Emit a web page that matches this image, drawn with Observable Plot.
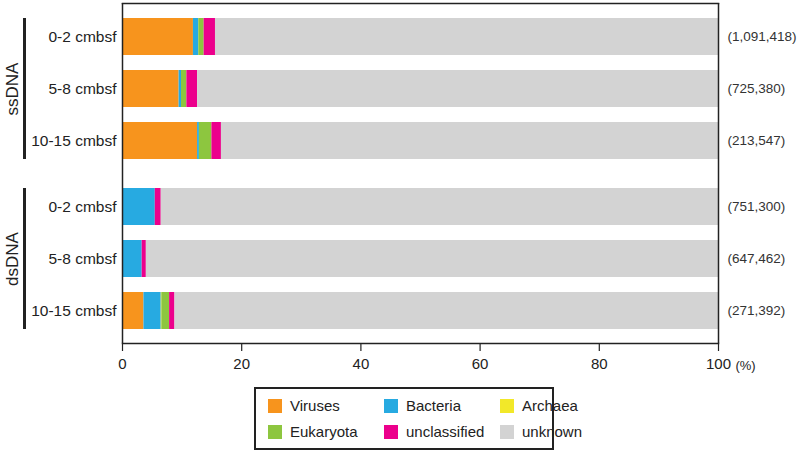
<!DOCTYPE html>
<html>
<head>
<meta charset="utf-8">
<script src="https://cdn.jsdelivr.net/npm/d3@7"></script>
<script src="https://cdn.jsdelivr.net/npm/@observablehq/plot@0.6"></script>
<style>
  html, body { margin: 0; padding: 0; background: #fff; }
  body { width: 800px; height: 453px; overflow: hidden; font-family: "Liberation Sans", Arial, Helvetica, sans-serif; }
  #legend {
    position: absolute; left: 254px; top: 387px; width: 284px; height: 59px;
    border: 2px solid #222; box-sizing: content-box;
    display: grid; grid-template-columns: 116px 116px 64px; grid-template-rows: 26px 26px;
    padding-left: 12px; align-content: center; font-size: 15px; color: #222;
  }
  #legend .item { display: flex; align-items: center; white-space: nowrap; }
  #legend .sw { width: 14px; height: 14px; margin-right: 8px; flex: none; }
</style>
</head>
<body>
<div id="chart"></div>
<div id="legend"></div>
<script>
// ---- data ----
const groups = ["ssDNA", "dsDNA"];
const depths = ["0-2 cmbsf", "5-8 cmbsf", "10-15 cmbsf"];
const categories = ["Viruses", "Bacteria", "Archaea", "Eukaryota", "unclassified", "unknown"];
const colors = ["#F7941D", "#27AAE1", "#F2E829", "#8DC63F", "#EC008C", "#D3D3D3"];

const rowGroup = ["ssDNA", "ssDNA", "ssDNA", "dsDNA", "dsDNA", "dsDNA"];
const rowDepth = ["0-2 cmbsf", "5-8 cmbsf", "10-15 cmbsf", "0-2 cmbsf", "5-8 cmbsf", "10-15 cmbsf"];
const readCounts = ["(1,091,418)", "(725,380)", "(213,547)", "(751,300)", "(647,462)", "(271,392)"];

const viruses      = [11.9, 9.5, 12.6, 0.0, 0.0, 3.6];
const bacteria     = [0.9, 0.4, 0.3, 5.5, 3.3, 2.9];
const archaea      = [0.0, 0.0, 0.0, 0.0, 0.0, 0.1];
const eukaryota    = [0.9, 0.9, 2.1, 0.0, 0.0, 1.3];
const unclassified = [1.9, 1.8, 1.6, 1.0, 0.7, 0.9];
const unknown      = [84.4, 87.4, 83.4, 93.5, 96.0, 91.2];

const xTicks = [0, 20, 40, 60, 80, 100];
const unitLabel = "(%)";

// ---- build tables ----
const series = [viruses, bacteria, archaea, eukaryota, unclassified, unknown];
const segments = [];
rowGroup.forEach((g, i) => {
  categories.forEach((c, k) => {
    segments.push({group: g, depth: rowDepth[i], category: c, value: series[k][i]});
  });
});
const rows = rowGroup.map((g, i) => ({group: g, depth: rowDepth[i], count: readCounts[i]}));

const font = "'Liberation Sans', Arial, Helvetica, sans-serif";
const ink = "#222";

const chart = Plot.plot({
  width: 800,
  height: 382,
  marginLeft: 122,
  marginRight: 82,
  marginTop: 2,
  marginBottom: 39,
  style: {fontFamily: font, fontSize: "14px", color: ink, background: "#fff"},
  x: {domain: [0, 100], axis: null, label: null},
  y: {domain: depths, paddingInner: 0.29, paddingOuter: 0.26, axis: null},
  fy: {domain: groups, padding: 0, axis: null},
  color: {domain: categories, range: colors},
  marks: [
    Plot.barX(segments, Plot.stackX({
      x: "value", y: "depth", fy: "group", fill: "category", order: categories
    })),
    // plot frame
    Plot.ruleX([xTicks[0], xTicks[xTicks.length - 1]], {stroke: ink, strokeWidth: 1.5}),
    Plot.frame({anchor: "top", facetAnchor: "top", stroke: ink, strokeWidth: 1.5}),
    Plot.frame({anchor: "bottom", facetAnchor: "bottom", stroke: ink, strokeWidth: 1.5}),
    // x axis
    Plot.axisX({anchor: "bottom", label: null, ticks: xTicks, tickSize: 8, tickPadding: 7, fontSize: 15, stroke: ink, strokeWidth: 1.2, fill: ink}),
    Plot.text([unitLabel], {fy: () => "dsDNA", x: () => 100, frameAnchor: "bottom", lineAnchor: "middle", text: d => d, dx: 27, dy: 22, fontSize: 13, fill: ink}),
    // y labels
    Plot.text(rows, {fy: "group", y: "depth", x: () => 0, text: "depth", textAnchor: "end", dx: -6, fontSize: 15.5, fill: ink}),
    // read counts
    Plot.text(rows, {fy: "group", y: "depth", x: () => 100, text: "count", textAnchor: "start", dx: 9, fontSize: 13.5, fill: "#333"}),
    // group brackets and labels
    Plot.ruleX(groups, {fy: d => d, x: () => 0, y1: () => depths[0], y2: () => depths[depths.length - 1], dx: -98, stroke: ink, strokeWidth: 3}),
    Plot.text(groups, {fy: d => d, x: () => 0, y: () => depths[1], text: d => d, rotate: -90, dx: -110, fontSize: 17, fill: ink})
  ]
});
document.getElementById("chart").appendChild(chart);

// ---- legend ----
const legend = d3.select("#legend");
categories.forEach((c, k) => {
  const item = legend.append("div").attr("class", "item");
  item.append("div").attr("class", "sw").style("background", colors[k]);
  item.append("span").text(c);
});
</script>
</body>
</html>
